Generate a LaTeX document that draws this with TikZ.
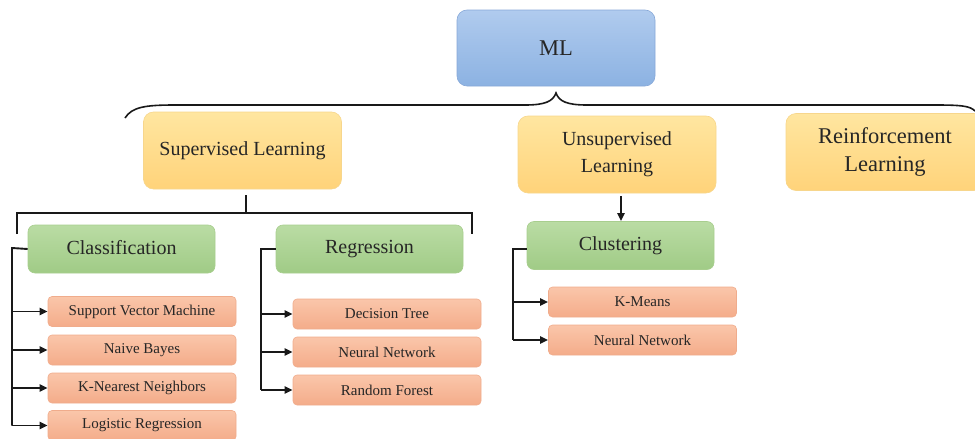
\documentclass[tikz,border=0pt]{standalone}
\usepackage{fontspec}
\setmainfont{Liberation Serif}
\usetikzlibrary{arrows.meta}
\definecolor{txt}{HTML}{262626}
\tikzset{
  x=1pt, y=-1pt,
  box/.style={draw, line width=0.6pt, inner sep=0pt, align=center, text=txt},
  bluebox/.style={box, rounded corners=10pt, top color={rgb,255:red,176;green,203;blue,238}, bottom color={rgb,255:red,140;green,178;blue,226}, draw={rgb,255:red,135;green,168;blue,216}, minimum width=198pt, minimum height=76pt, font=\fontsize{22.5}{25}\selectfont},
  yelbox/.style={box, rounded corners=10pt, top color={rgb,255:red,255;green,230;blue,160}, bottom color={rgb,255:red,255;green,211;blue,122}, draw={rgb,255:red,247;green,214;blue,140}, minimum width=198pt, minimum height=77pt, font=\fontsize{20}{27}\selectfont},
  grnbox/.style={box, rounded corners=7pt, top color={rgb,255:red,186;green,220;blue,164}, bottom color={rgb,255:red,160;green,203;blue,134}, draw={rgb,255:red,168;green,206;blue,142}, minimum width=187pt, minimum height=48pt, font=\fontsize{20}{22}\selectfont},
  salbox/.style={box, rounded corners=4pt, top color={rgb,255:red,250;green,198;blue,170}, bottom color={rgb,255:red,244;green,172;blue,138}, draw={rgb,255:red,240;green,172;blue,140}, minimum width=188pt, minimum height=30pt, font=\fontsize{15}{17}\selectfont},
  ln/.style={line width=1.9pt, black!90},
  arr/.style={ln, -{Triangle[length=8pt,width=7pt]}},
}
\begin{document}
\begin{tikzpicture}
\useasboundingbox (0,0) rectangle (975,439);
% top level
\node[bluebox] (ml) at (556,48) {ML};
\node[yelbox] (sup) at (242.5,150.5) {\raisebox{3pt}{Supervised Learning}};
\node[yelbox] (uns) at (617,154.5) {Unsupervised\\Learning};
\node[yelbox, font=\fontsize{22.5}{28}\selectfont] (rei) at (885,152) {Reinforcement\\Learning};
% brace
\draw[ln, line width=1.6pt] (125,118) .. controls (132,107) and (145,105) .. (175,105)
  -- (525,105) .. controls (546,105) and (553,101) .. (556,93)
  .. controls (559,101) and (566,105) .. (587,105)
  -- (935,105) .. controls (962,105) and (970,106) .. (975,111);
% second level
\node[grnbox] (cls) at (121.5,249) {\raisebox{3pt}{Classification}};
\node[grnbox] (reg) at (369.5,249) {\raisebox{3pt}{Regression}};
\node[grnbox] (clu) at (620.5,245.5) {\raisebox{3pt}{Clustering}};
% leaves
\node[salbox] (svm) at (142,311.5) {Support Vector Machine};
\node[salbox] (nb)  at (142,350)   {Naive Bayes};
\node[salbox] (knn) at (142,388)   {K-Nearest Neighbors};
\node[salbox] (lr)  at (142,425.5) {Logistic Regression};
\node[salbox] (dt)  at (387,314)   {Decision Tree};
\node[salbox] (nn1) at (387,352)   {Neural Network};
\node[salbox] (rf)  at (387,390)   {Random Forest};
\node[salbox] (km)  at (642.5,302) {K-Means};
\node[salbox] (nn2) at (642.5,340) {Neural Network};
% supervised split
\coordinate (s1) at (246,195);
\coordinate (s2) at (246,213);
\coordinate (sl) at (17,213);
\coordinate (sr) at (472,213);
\draw[ln] (s1) -- (s2);
\draw[ln] (17,234) -- (sl) -- (sr) -- (472,234);
% unsupervised arrow
\coordinate (u1) at (621,196);
\draw[arr] (u1) -- (clu.north -| u1);
% classification
\coordinate (ct) at (12,248);
\draw[ln] (cls.west) -- (ct) -- (ct |- lr.west);
\foreach \n in {svm,nb,knn,lr} \draw[arr] (ct |- \n.west) -- (\n.west);
% regression
\coordinate (rt) at (261,249);
\draw[ln] (reg.west) -- (rt) -- (rt |- rf.west);
\foreach \n in {dt,nn1,rf} \draw[arr] (rt |- \n.west) -- (\n.west);
% clustering
\coordinate (kt) at (513,249);
\draw[ln] (clu.west |- kt) -- (kt) -- (kt |- nn2.west);
\foreach \n in {km,nn2} \draw[arr] (kt |- \n.west) -- (\n.west);
\end{tikzpicture}
\end{document}
